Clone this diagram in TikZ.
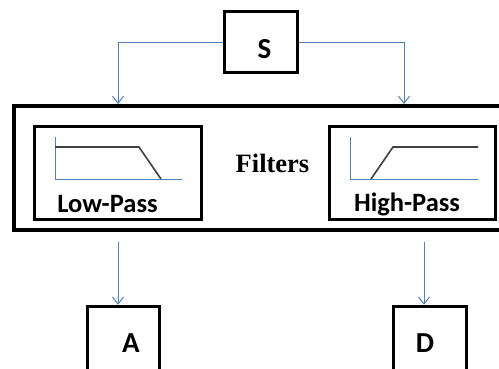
\documentclass[tikz,border=0pt]{standalone}
\usepackage{fontspec}
\setmainfont{Liberation Serif}
\newfontfamily\calfont{Carlito}
\usetikzlibrary{arrows.meta,fit}
\definecolor{linkblue}{RGB}{79,129,189}
\definecolor{curvegray}{RGB}{64,64,64}
\tikzset{
  boxshape/.style={draw=black, line width=3.4pt, inner sep=0pt, rectangle},
  bigshape/.style={draw=black, line width=4pt, inner sep=0pt, rectangle},
  flow/.style={draw=linkblue, line width=1pt, -{Straight Barb[length=7pt,width=11pt,line width=1pt]}},
  axis/.style={draw=linkblue, line width=1pt},
  curve/.style={draw=curvegray, line width=1.6pt},
  lbl/.style={inner sep=0pt, anchor=base, font=\calfont\bfseries\fontsize{29}{33}\selectfont},
  flbl/.style={inner sep=0pt, anchor=base, font=\calfont\bfseries\fontsize{26.5}{30}\selectfont},
  ftxt/.style={inner sep=0pt, anchor=base, font=\bfseries\fontsize{26.5}{30}\selectfont}
}
\begin{document}
\begin{tikzpicture}[x=1pt,y=-1pt]
\useasboundingbox (0,0) rectangle (499,368);
\clip (0,0) rectangle (499,368);
% boxes
\node[boxshape, fit={(224.5,11.5) (297.5,72.5)}] (S) {};
\node[bigshape, fit={(14,106) (505,230)}] (F) {};
\node[boxshape, fit={(34.5,126.5) (201.5,219.5)}] (LP) {};
\node[boxshape, fit={(329.5,126.5) (495.5,219.5)}] (HP) {};
\node[boxshape, fit={(87.5,306.5) (159.5,390)}] (A) {};
\node[boxshape, fit={(393.5,306.5) (466.5,390)}] (D) {};
% texts
\node[lbl] (St) at (264.5,58) {S};
\node[lbl] (At) at (131,352) {A};
\node[lbl] (Dt) at (425,352) {D};
\node[flbl] (LPt) at (107.5,212) {Low-Pass};
\node[flbl] (HPt) at (407,211) {High-Pass};
\node[ftxt] (Ft) at (272.5,172) {Filters};
% filter sketches
\coordinate (lpo) at (55,179);
\draw[axis] (55,137) -- (lpo) -- (182,179);
\draw[curve] (55,147) -- (139,147) -- (161,179);
\coordinate (hpo) at (350,179);
\draw[axis] (350,137) -- (hpo) -- (478,179);
\draw[curve] (371,179) -- (393,147) -- (478,147);
% connectors
\coordinate (sl) at (118,42);
\coordinate (sr) at (404,42);
\draw[flow] (S.west |- sl) -- (sl) -- (sl |- F.north);
\draw[flow] (S.east |- sr) -- (sr) -- (sr |- F.north);
\coordinate (al) at (118,242);
\coordinate (dr) at (424,242);
\draw[flow] (al) -- (al |- A.north);
\draw[flow] (dr) -- (dr |- D.north);
\end{tikzpicture}
\end{document}
